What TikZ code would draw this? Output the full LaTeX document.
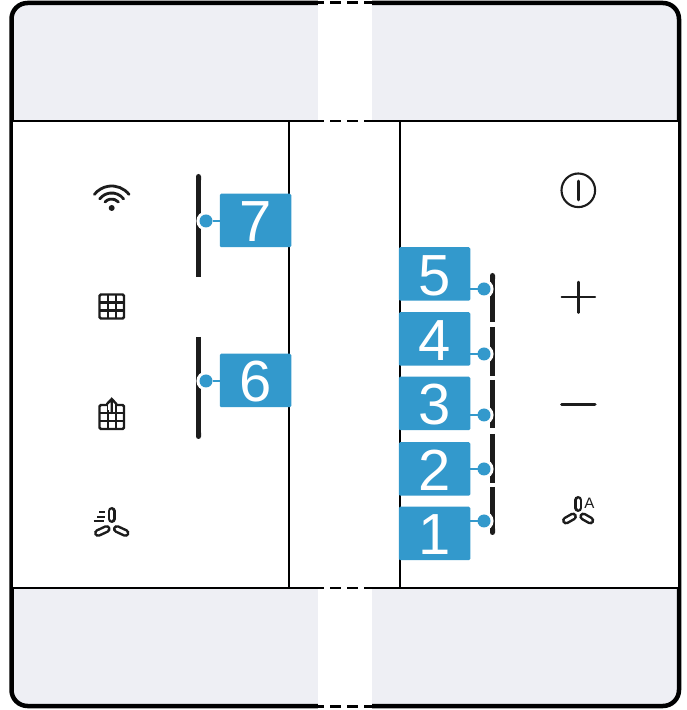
\documentclass[tikz,border=0pt]{standalone}
\usepackage{fontspec}
\setmainfont{Liberation Sans}
\usepackage{xcolor}
\usetikzlibrary{arrows.meta}
\definecolor{panelgray}{HTML}{EEEFF4}
\definecolor{calloutblue}{HTML}{3399CC}
\definecolor{iconblack}{HTML}{1C1C1C}
\tikzset{
  numbox/.style={fill=calloutblue,text=white,rounded corners=0.4pt,inner sep=0pt,outer sep=0pt,
    minimum width=0.715cm,minimum height=0.535cm,text height=0.43cm,text depth=0pt,
    font=\fontsize{16.5}{16.5}\selectfont},
  numdot/.style={circle,fill=calloutblue,minimum size=0.13cm,inner sep=0pt,outer sep=0pt,
    preaction={draw=white,line width=0.06cm}},
  lead/.style={calloutblue,line width=0.025cm},
  bar/.style={iconblack,line width=0.05cm},
  icon/.style={iconblack,line width=0.024cm,line cap=round},
  blade/.style={iconblack,line width=0.025cm,line cap=round,double=white,double distance=0.03cm},
  seam/.style={dash pattern=on 0.11cm off 0.06cm,dash phase=0.05cm}
}
\begin{document}
\begin{tikzpicture}
\useasboundingbox (0,0) rectangle (6.86,7.10);
% Control panel front: grey bands top and bottom, broken in the middle.
\draw[fill=panelgray,line width=0.045cm,rounded corners=0.16cm] (0.115,0.04) rectangle (6.79,7.07);
\fill[white] (0.13,1.22) rectangle (6.775,5.89);
\draw[line width=0.02cm] (0.115,5.89)--(6.79,5.89) (0.115,1.22)--(6.79,1.22);
\draw[line width=0.02cm] (2.89,5.89)--(2.89,1.22) (4.00,5.89)--(4.00,1.22);
\fill[white] (3.18,-0.01) rectangle (3.72,7.11);
\draw[seam,line width=0.03cm] (3.18,7.07)--(3.72,7.07);
\draw[seam,line width=0.015cm] (3.18,5.89)--(3.72,5.89);
\draw[seam,line width=0.015cm] (3.18,1.22)--(3.72,1.22);
\draw[seam,line width=0.03cm] (3.18,0.04)--(3.72,0.04);
% Touch bars, left pair then right row of five.
\draw[bar,{Round Cap[]}-] (1.985,5.36)--(1.985,4.33);
\draw[bar,-{Round Cap[]}] (1.985,3.73)--(1.985,2.71);
\draw[bar,{Round Cap[]}-] (4.925,4.37)--(4.925,3.88);
\draw[bar] (4.925,3.83)--(4.925,3.34);
\draw[bar] (4.925,3.30)--(4.925,2.82);
\draw[bar] (4.925,2.76)--(4.925,2.27);
\draw[bar,-{Round Cap[]}] (4.925,2.23)--(4.925,1.75);
% Callouts
\foreach \num/\boxx/\boxy/\dotx/\doty in {7/2.555/4.895/2.06/4.89,6/2.555/3.295/2.06/3.29}{
  \node[numbox] (box\num) at (\boxx,\boxy) {\num};
  \node[numdot] (dot\num) at (\dotx,\doty) {};
  \draw[lead] (dot\num) -- (dot\num -| box\num.west);
}
\foreach \num/\boxx/\boxy/\dotx/\doty in {5/4.345/4.36/4.84/4.21,4/4.345/3.71/4.84/3.56,3/4.345/3.065/4.84/2.95,2/4.345/2.41/4.84/2.41,1/4.345/1.765/4.84/1.89}{
  \node[numbox] (box\num) at (\boxx,\boxy) {\num};
  \node[numdot] (dot\num) at (\dotx,\doty) {};
  \draw[lead] (dot\num) -- (dot\num -| box\num.east);
}
% Wifi
\fill[iconblack] (1.117,5.02) circle (0.03);
\draw[icon,line width=0.028cm] (1.117,5.02) ++(38:0.22) arc[start angle=38,end angle=142,radius=0.22];
\draw[icon,line width=0.028cm] (1.117,5.02) ++(37:0.15) arc[start angle=37,end angle=143,radius=0.15];
\draw[icon,line width=0.028cm] (1.117,5.02) ++(42:0.09) arc[start angle=42,end angle=138,radius=0.09];
% Grids
\foreach \gridtop in {4.155,3.05}{
  \draw[icon,rounded corners=0.4pt] (0.995,\gridtop) rectangle (1.24,\gridtop-0.24);
  \draw[icon,line cap=butt] (1.077,\gridtop)--(1.077,\gridtop-0.24) (1.158,\gridtop)--(1.158,\gridtop-0.24)
    (0.995,\gridtop-0.08)--(1.24,\gridtop-0.08) (0.995,\gridtop-0.16)--(1.24,\gridtop-0.16);
}
\draw[white,line width=0.07cm] (1.117,3.00)--(1.117,3.13);
\draw[icon] (1.117,2.97)--(1.117,3.11) (1.07,3.06)--(1.117,3.11)--(1.164,3.06);
% Fan with speed lines
\draw[blade] (1.117,1.99)--(1.117,1.91);
\draw[blade] (0.98,1.77)--(1.066,1.81);
\draw[blade] (1.255,1.77)--(1.169,1.81);
\draw[icon,line width=0.02cm,line cap=butt] (0.99,1.98)--(1.05,1.98) (0.97,1.93)--(1.05,1.93) (0.935,1.885)--(1.035,1.885);
% Right icons
\draw[icon,line width=0.021cm] (5.783,5.197) circle (0.168);
\draw[icon,line width=0.027cm] (5.783,5.29)--(5.783,5.10);
\draw[icon] (5.617,4.127)--(5.95,4.127) (5.783,4.28)--(5.783,3.973);
\draw[icon,line width=0.03cm] (5.617,3.057)--(5.95,3.057);
\draw[blade] (5.783,2.10)--(5.783,2.02);
\draw[blade] (5.66,1.895)--(5.73,1.935);
\draw[blade] (5.903,1.895)--(5.833,1.935);
\node[iconblack,inner sep=0pt,font=\fontsize{4.3}{4.3}\selectfont] (fanauto) at (5.893,2.067) {A};
\end{tikzpicture}
\end{document}
